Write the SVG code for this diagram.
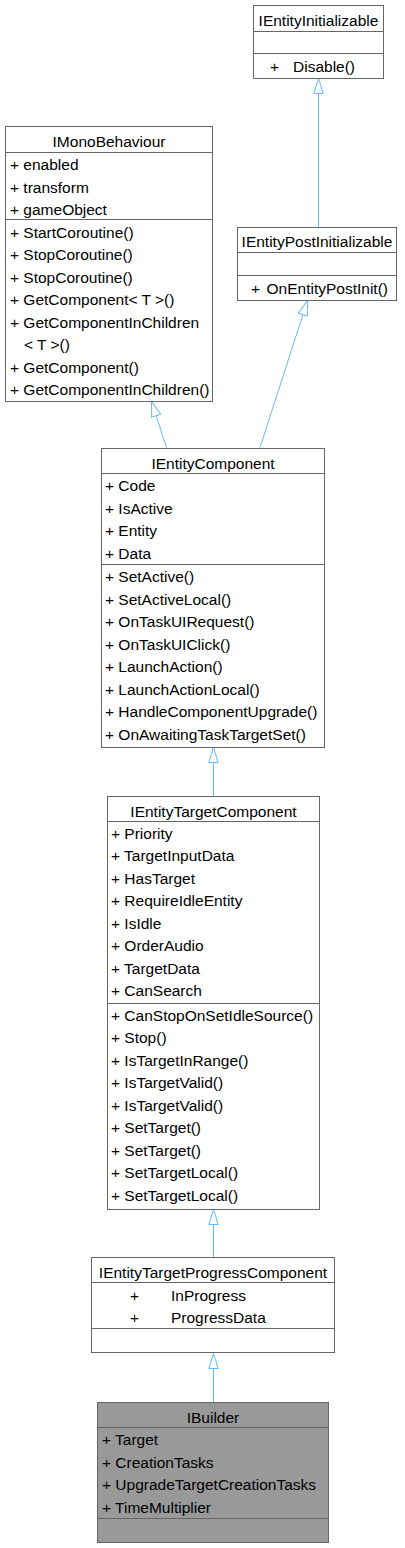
<svg xmlns="http://www.w3.org/2000/svg" width="405" height="1548" viewBox="0 0 405 1548">
<style>
.box{fill:#ffffff;stroke:#666666;stroke-width:1}
.hl{fill:#999999;stroke:#666666;stroke-width:1}
.sep{stroke:#666666;stroke-width:1;fill:none}
text{font-family:"Liberation Sans",Arial,Helvetica,sans-serif;font-size:15.5px;fill:#000000}
.t{text-anchor:middle}
.edge{stroke:#63B8FF;stroke-width:1;fill:none;marker-end:url(#inh)}
</style>
<defs>
<marker id="inh" markerUnits="userSpaceOnUse" viewBox="0 0 16 11" refX="15.5" refY="5.5" markerWidth="16" markerHeight="11" orient="auto">
<path d="M15.5,5.5 L0.5,0.8 L0.5,10.2 Z" fill="#ffffff" stroke="#63B8FF" stroke-width="1"/>
</marker>
</defs>
<g id="connectors">
<path class="edge" d="M318.5,227 L318.5,78.5"/>
<path class="edge" d="M166.5,447.5 L151.5,401.5"/>
<path class="edge" d="M260,447.5 L307.5,300.5"/>
<path class="edge" d="M213.5,796 L213.5,747.5"/>
<path class="edge" d="M213.5,1257 L213.5,1209.5"/>
<path class="edge" d="M213.5,1402 L213.5,1353.5"/>
</g>
<g id="IEntityInitializable">
<rect class="box" x="253.5" y="5.5" width="130" height="73"/>
<line class="sep" x1="253.5" y1="31.5" x2="383.5" y2="31.5"/>
<line class="sep" x1="253.5" y1="53.5" x2="383.5" y2="53.5"/>
<text class="t" x="318.5" y="25.5">IEntityInitializable</text>
<text y="72"><tspan x="270">+</tspan><tspan x="293">Disable()</tspan></text>
</g>
<g id="IEntityPostInitializable">
<rect class="box" x="237.5" y="227.5" width="159" height="73"/>
<line class="sep" x1="237.5" y1="252.5" x2="396.5" y2="252.5"/>
<line class="sep" x1="237.5" y1="275.5" x2="396.5" y2="275.5"/>
<text class="t" x="317" y="247">IEntityPostInitializable</text>
<text y="293.5"><tspan x="251">+</tspan><tspan x="266.5">OnEntityPostInit()</tspan></text>
</g>
<g id="IMonoBehaviour">
<rect class="box" x="5.5" y="126.5" width="207" height="275"/>
<line class="sep" x1="5.5" y1="152.5" x2="212.5" y2="152.5"/>
<line class="sep" x1="5.5" y1="219.5" x2="212.5" y2="219.5"/>
<text class="t" x="109" y="147">IMonoBehaviour</text>
<text x="10" y="170">+ enabled</text>
<text x="10" y="192.5">+ transform</text>
<text x="10" y="215">+ gameObject</text>
<text x="10" y="237.5">+ StartCoroutine()</text>
<text x="10" y="260">+ StopCoroutine()</text>
<text x="10" y="282.5">+ StopCoroutine()</text>
<text x="10" y="305">+ GetComponent&lt; T &gt;()</text>
<text x="10" y="327.5">+ GetComponentInChildren</text>
<text x="24" y="350">&lt; T &gt;()</text>
<text x="10" y="372.5">+ GetComponent()</text>
<text x="10" y="395">+ GetComponentInChildren()</text>
</g>
<g id="IEntityComponent">
<rect class="box" x="101.5" y="448.5" width="223" height="299"/>
<line class="sep" x1="101.5" y1="473.5" x2="324.5" y2="473.5"/>
<line class="sep" x1="101.5" y1="564.5" x2="324.5" y2="564.5"/>
<text class="t" x="213" y="469">IEntityComponent</text>
<text x="105" y="491">+ Code</text>
<text x="105" y="513.5">+ IsActive</text>
<text x="105" y="536">+ Entity</text>
<text x="105" y="558.5">+ Data</text>
<text x="105" y="582">+ SetActive()</text>
<text x="105" y="604.5">+ SetActiveLocal()</text>
<text x="105" y="627">+ OnTaskUIRequest()</text>
<text x="105" y="649.5">+ OnTaskUIClick()</text>
<text x="105" y="672">+ LaunchAction()</text>
<text x="105" y="694.5">+ LaunchActionLocal()</text>
<text x="105" y="717">+ HandleComponentUpgrade()</text>
<text x="105" y="739.5">+ OnAwaitingTaskTargetSet()</text>
</g>
<g id="IEntityTargetComponent">
<rect class="box" x="107.5" y="796.5" width="212" height="413"/>
<line class="sep" x1="107.5" y1="821.5" x2="319.5" y2="821.5"/>
<line class="sep" x1="107.5" y1="1003.5" x2="319.5" y2="1003.5"/>
<text class="t" x="213.5" y="817">IEntityTargetComponent</text>
<text x="111" y="838.5">+ Priority</text>
<text x="111" y="861">+ TargetInputData</text>
<text x="111" y="883.5">+ HasTarget</text>
<text x="111" y="906">+ RequireIdleEntity</text>
<text x="111" y="928.5">+ IsIdle</text>
<text x="111" y="951">+ OrderAudio</text>
<text x="111" y="973.5">+ TargetData</text>
<text x="111" y="996">+ CanSearch</text>
<text x="111" y="1020.5">+ CanStopOnSetIdleSource()</text>
<text x="111" y="1043">+ Stop()</text>
<text x="111" y="1065.5">+ IsTargetInRange()</text>
<text x="111" y="1088">+ IsTargetValid()</text>
<text x="111" y="1110.5">+ IsTargetValid()</text>
<text x="111" y="1133">+ SetTarget()</text>
<text x="111" y="1155.5">+ SetTarget()</text>
<text x="111" y="1178">+ SetTargetLocal()</text>
<text x="111" y="1200.5">+ SetTargetLocal()</text>
</g>
<g id="IEntityTargetProgressComponent">
<rect class="box" x="91.5" y="1257.5" width="243" height="95"/>
<line class="sep" x1="91.5" y1="1282.5" x2="334.5" y2="1282.5"/>
<line class="sep" x1="91.5" y1="1328.5" x2="334.5" y2="1328.5"/>
<text class="t" x="213" y="1277.5">IEntityTargetProgressComponent</text>
<text y="1300.5"><tspan x="130">+</tspan><tspan x="171">InProgress</tspan></text>
<text y="1323"><tspan x="130">+</tspan><tspan x="171">ProgressData</tspan></text>
</g>
<g id="IBuilder">
<rect class="hl" x="97.5" y="1402.5" width="231" height="140"/>
<line class="sep" x1="97.5" y1="1427.5" x2="328.5" y2="1427.5"/>
<line class="sep" x1="97.5" y1="1518.5" x2="328.5" y2="1518.5"/>
<text class="t" x="213" y="1422.5">IBuilder</text>
<text x="102" y="1445">+ Target</text>
<text x="102" y="1467.5">+ CreationTasks</text>
<text x="102" y="1490">+ UpgradeTargetCreationTasks</text>
<text x="102" y="1512.5">+ TimeMultiplier</text>
</g>
</svg>
